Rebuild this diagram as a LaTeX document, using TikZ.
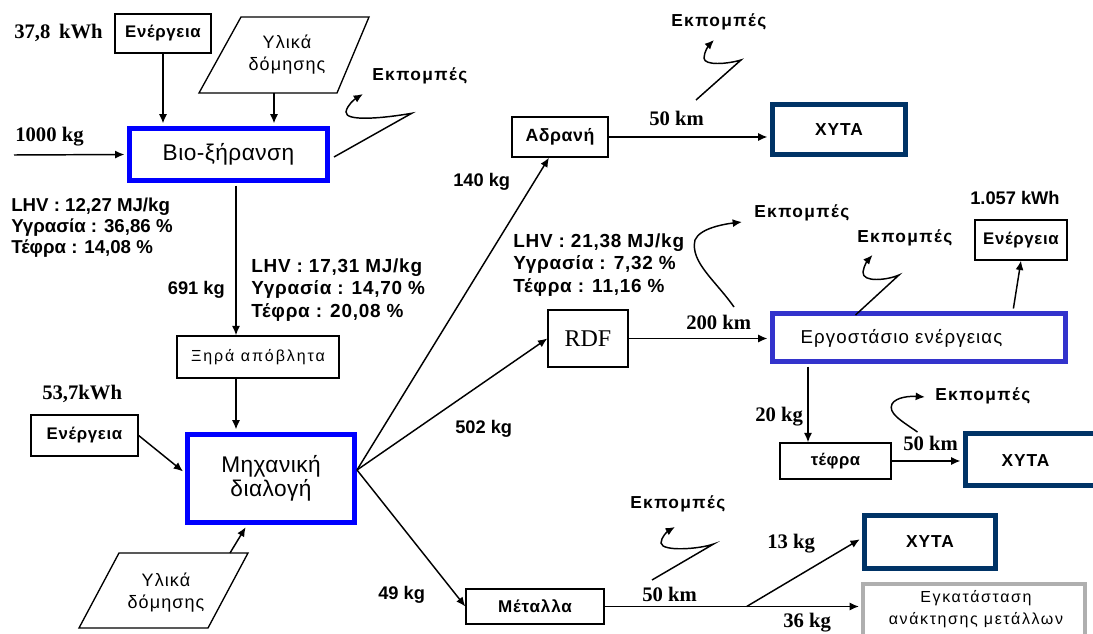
\documentclass[tikz,border=0pt]{standalone}
\usepackage{fontspec}
\setmainfont{Liberation Sans}
\newfontfamily\tmsfont{Liberation Serif}
\newcommand\lsp[1]{\addfontfeature{LetterSpace=#1}}
\usetikzlibrary{arrows.meta,calc}
\definecolor{pureblue}{RGB}{0,0,255}
\definecolor{plantblue}{RGB}{51,51,204}
\definecolor{navyx}{RGB}{0,51,102}
\definecolor{boxgray}{RGB}{175,175,175}
\tikzset{
  every node/.style={inner sep=0pt},
  sz/.style 2 args={minimum width=#1*0.75pt, minimum height=#2*0.75pt},
  thinbox/.style={draw=black, line width=1pt},
  bluebox/.style={draw=pureblue, line width=3.75pt},
  plantbox/.style={draw=plantblue, line width=3.75pt},
  xytabox/.style={draw=navyx, line width=3.75pt},
  graybox/.style={draw=boxgray, line width=3pt},
  arr/.style={line width=1.1pt, -{Latex[length=7pt,width=6pt]}},
  tothick/.style={shorten >=1.9pt},
  fromthick/.style={shorten <=1.9pt},
  lab/.style={font=\fontsize{13.7pt}{16pt}\selectfont\bfseries, anchor=west},
  serlab/.style={font=\tmsfont\fontsize{15.5pt}{18pt}\selectfont\bfseries, anchor=west},
  emis/.style={font=\fontsize{13pt}{15pt}\selectfont\bfseries\lsp{8}, anchor=west},
  boxb/.style={font=\fontsize{12.6pt}{15pt}\selectfont\bfseries\lsp{4}},
  xytaf/.style={font=\fontsize{13pt}{15pt}\selectfont\bfseries\lsp{5}},
  matf/.style={font=\fontsize{13.5pt}{16.5pt}\selectfont\lsp{6}, align=center},
  bigf/.style={font=\fontsize{17pt}{18pt}\selectfont\lsp{2}, align=center},
  lhvA/.style={font=\fontsize{14pt}{15.75pt}\selectfont\bfseries, align=left, anchor=west},
  lhvB/.style={font=\fontsize{14.2pt}{16.6pt}\selectfont\bfseries\lsp{4}, align=left, anchor=west},
}
\begin{document}
\begin{tikzpicture}[x=0.75pt,y=-0.75pt]
\useasboundingbox (0,0) rectangle (1093,634);
\fill[white] (0,0) rectangle (1093,634);

% ---------- top-left: bio-drying ----------
\node[thinbox, sz={96}{39}, boxb] (en1) at (163,33.5) {Ενέργεια};
\node[serlab] (l378) at (14,33) {37,8 \,kWh};
\draw[thinbox] (241,17) -- (369,17) -- (337,93) -- (199,93) -- cycle;
\node[matf] (mat1) at (287,55) {Υλικά\\δόμησης};
\coordinate (m1b) at (274,93);
\node[bluebox, sz={198}{52}, font=\fontsize{17pt}{20pt}\selectfont\lsp{2}] (bio) at (228.5,154.5) {Βιο-ξήρανση};
\coordinate (in0) at (14,155);
\node[serlab] (l1000) at (15,137) {1000 kg};
\draw[arr, tothick] (in0) -- (bio.west);
\draw[arr, tothick] (en1.south) -- (en1.south |- bio.north);
\draw[arr, tothick] (m1b) -- (m1b |- bio.north);

\node[emis] (em1) at (372,76) {Εκπομπές};
\coordinate (s1) at (334,157);
\draw[arr] (s1) -- (411.7,113.3) .. controls (385,118) and (345,122) .. (346,112) .. controls (347,105) and (355,99) .. (363,94);

\node[lhvA] (lhv1) at (11,228) {LHV : 12,27 MJ/kg\\Υγρασία : 36,86 \%\\Τέφρα : 14,08 \%};

% ---------- dry waste ----------
\node[thinbox, sz={162}{42}, font=\fontsize{12pt}{14pt}\selectfont\lsp{12}] (xir) at (258,357) {Ξηρά απόβλητα};
\coordinate (b2) at ($(bio.south)+(7.5,0)$);
\draw[arr, fromthick] (b2) -- (b2 |- xir.north);
\node[lab, anchor=east] (l691) at (225,290) {691 kg};
\node[lhvB] (lhv2) at (251,290) {LHV : 17,31 MJ/kg\\Υγρασία : 14,70 \%\\Τέφρα : 20,08 \%};

% ---------- mechanical sorting ----------
\node[bluebox, sz={167}{88}, bigf] (mec) at (271,478.5) {Μηχανική\\διαλογή};
\draw[arr, tothick] (b2 |- xir.south) -- (b2 |- mec.north);
\node[serlab] (l537) at (42,394) {53,7kWh};
\node[thinbox, sz={107}{41}, boxb] (en2) at (84.5,435.5) {Ενέργεια};
\draw[arr, tothick] (en2.east) -- ($(mec.west)+(0,-5.5)$);
\draw[thinbox] (119,553) -- (248,553) -- (208,628) -- (79,628) -- cycle;
\node[matf] (mat2) at (166,593) {Υλικά\\δόμησης};
\coordinate (m2t) at (230,553);
\draw[arr, tothick] (m2t) -- ($(mec.south)+(-24,0)$);

\coordinate (mo) at (357,470);
\node[thinbox, sz={96}{40}, font=\fontsize{13.3pt}{15pt}\selectfont\bfseries\lsp{3}] (adr) at (560,137) {Αδρανή};
\node[thinbox, sz={80}{57}, font=\tmsfont\fontsize{18pt}{20pt}\selectfont] (rdf) at (588,338.5) {RDF};
\node[thinbox, sz={138}{35}, font=\fontsize{12.8pt}{15pt}\selectfont\bfseries\lsp{5}] (met) at (535,606.5) {Μέταλλα};
\draw[arr] (mo) -- ($(adr.south)+(-11,0)$);
\draw[arr] (mo) -- (rdf.west);
\draw[arr] (mo) -- (met.west);
\node[lab] (l140) at (453,182) {140 kg};
\node[lab] (l502) at (455,429) {502 kg};
\node[lab] (l49) at (378,595) {49 kg};

% ---------- inert -> landfill ----------
\node[xytabox, sz={133}{50}, xytaf] (x1) at (839,129.5) {ΧΥΤΑ};
\draw[arr, tothick] (adr.east) -- (adr.east -| x1.west);
\node[serlab] (l50a) at (649,118) {50 km};
\node[emis] (em2) at (671,22) {Εκπομπές};
\draw[arr] (696,100) -- (741,60) .. controls (728,64) and (704,66) .. (704,58) .. controls (704,52) and (709,45) .. (714,40);

% ---------- RDF -> energy plant ----------
\node[lhvB] (lhv3) at (513,265) {LHV : 21,38 MJ/kg\\Υγρασία : 7,32 \%\\Τέφρα : 11,16 \%};
\node[plantbox, sz={293}{48}] (erg) at (919,337.5) {};
\node[font=\fontsize{14pt}{16pt}\selectfont\lsp{6}] (ergt) at (901.5,338) {Εργοστάσιο ενέργειας};
\draw[arr, tothick] (rdf.east) -- (rdf.east -| erg.west);
\node[serlab] (l200) at (686,322) {200 km};
\node[emis] (em3) at (754,213) {Εκπομπές};
\draw[arr] (734,307) .. controls (715,280) and (690,262) .. (695,240) .. controls (700,228) and (725,224) .. (742,222);
\node[emis] (em4) at (857,238) {Εκπομπές};
\draw[arr] (855.5,315) -- (899,275) .. controls (888,280) and (862,283) .. (863,272) .. controls (864,265) and (868,260) .. (872.5,255);
\node[thinbox, sz={92}{40}, boxb] (en3) at (1021,240) {Ενέργεια};
\node[lab] (l1057) at (970,198) {1.057 kWh};
\draw[arr, fromthick] ($(erg.north)+(94,0)$) -- (en3.south);

% ---------- ash ----------
\node[thinbox, sz={111}{36}, font=\fontsize{12.5pt}{15pt}\selectfont\bfseries\lsp{3}] (tef) at (835.5,461) {τέφρα};
\coordinate (e2) at ($(erg.south)+(-111,0)$);
\draw[arr, fromthick] (e2) -- (e2 |- tef.north);
\node[serlab] (l20) at (755,417) {20 kg};
\node[xytabox, sz={132}{52}] (x2) at (1031.5,459.5) {};
\node[xytaf] (x2t) at (1025.5,461) {ΧΥΤΑ};
\draw[arr, tothick] (tef.east) -- (tef.east -| x2.west);
\node[serlab] (l50b) at (903,443) {50 km};
\node[emis] (em5) at (935,396) {Εκπομπές};
\draw[arr] (917.5,432) .. controls (900,420) and (888,413) .. (892,404) .. controls (896,397) and (910,396) .. (925,397);

% ---------- metals ----------
\node[xytabox, sz={131}{53}, xytaf] (x3) at (930,542) {ΧΥΤΑ};
\node[graybox, sz={222}{80}] (egk) at (974,624) {};
\node[font=\fontsize{12pt}{16.5pt}\selectfont\lsp{10}, align=center] (egkt) at (976,609) {Εγκατάσταση\\ανάκτησης μετάλλων};
\draw[arr, shorten >=1.5pt] (met.east) -- (met.east -| egk.west);
\coordinate (br) at ($(met.east)+(142,0)$);
\draw[arr, tothick] (br) -- ($(x3.west)+(0,-4)$);
\node[serlab] (l13) at (767,544) {13 kg};
\node[serlab] (l50c) at (642,594) {50 km};
\node[serlab] (l36) at (783,623) {36 kg};
\node[emis] (em6) at (630,504) {Εκπομπές};
\draw[arr] (652,580) -- (713.6,544) .. controls (700,549) and (662,552) .. (661,543) .. controls (661,537) and (668,531) .. (675,527);
\end{tikzpicture}
\end{document}
